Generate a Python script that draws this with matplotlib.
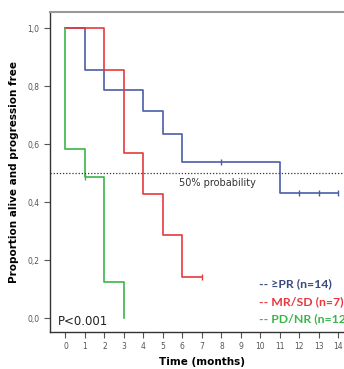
import numpy as np
import matplotlib.pyplot as plt

# Kaplan-Meier step data
pr_times = [0, 1, 2, 4, 5, 6, 11, 14]
pr_surv = [1.0, 0.857, 0.786, 0.714, 0.636, 0.54, 0.432, 0.432]
pr_cens_t = [8, 12, 13, 14]
pr_cens_s = [0.54, 0.432, 0.432, 0.432]

mr_times = [0, 2, 3, 4, 5, 6, 7]
mr_surv = [1.0, 0.857, 0.571, 0.429, 0.286, 0.143, 0.143]
mr_cens_t = [7]
mr_cens_s = [0.143]

pd_times = [0, 0, 1, 2, 3]
pd_surv = [1.0, 0.583, 0.486, 0.125, 0.0]
pd_cens_t = [1]
pd_cens_s = [0.486]

blue = '#4a5ea8'
red = '#e8383d'
green = '#3ab54a'

fig = plt.figure(figsize=(3.44, 3.69), dpi=100)
ax = fig.add_axes([0.145, 0.1003, 0.884, 0.8667])

ax.step(pr_times, pr_surv, where='post', color=blue, lw=1.2)
ax.step(mr_times, mr_surv, where='post', color=red, lw=1.2)
ax.step(pd_times, pd_surv, where='post', color=green, lw=1.2)
ax.plot(pr_cens_t, pr_cens_s, '|', color=blue, ms=4, mew=1)
ax.plot(mr_cens_t, mr_cens_s, '|', color=red, ms=4, mew=1)
ax.plot(pd_cens_t, pd_cens_s, '|', color=green, ms=4, mew=1)

ax.axhline(0.5, color='#333333', lw=0.9, ls=(0, (1, 1.5)))
ax.text(5.8, 0.465, '50% probability', fontsize=7, color='#333333', va='center')

ax.set_xlim(-0.8, 14.8)
ax.set_ylim(-0.048, 1.055)
ax.set_xticks(range(0, 15))
ax.set_yticks([0, 0.2, 0.4, 0.6, 0.8, 1.0])
ax.set_yticklabels(['0,0', '0,2', '0,4', '0,6', '0,8', '1,0'])
ax.tick_params(labelsize=5.5, colors='#555555', length=4, width=0.8)

for s in ['left', 'bottom']:
    ax.spines[s].set_color('#333333')
    ax.spines[s].set_linewidth(1)
ax.spines['top'].set_color('#999999')
ax.spines['top'].set_linewidth(1.5)
ax.spines['right'].set_visible(False)

ax.set_xlabel('Time (months)', fontsize=7.5, fontweight='bold', labelpad=4)
ax.set_ylabel('Proportion alive and progression free', fontsize=7.5,
              fontweight='bold', labelpad=6)

ax.text(-0.4, -0.012, 'P<0.001', fontsize=8.5, color='#222222', va='center')

leg_font = ['Lato', 'DejaVu Sans']
ax.text(9.95, 0.118, '-- \u2265PR (n=14)', fontsize=8.8, color='#3a4a7a',
        va='center', family=leg_font, fontweight='bold')
ax.text(9.95, 0.058, '-- MR/SD (n=7)', fontsize=8.8, color=red, va='center',
        family=leg_font, fontweight='bold')
ax.text(9.95, -0.002, '-- PD/NR (n=12)', fontsize=8.8, color=green, va='center',
        family=leg_font, fontweight='bold')

fig.savefig('out.png', dpi=100)
